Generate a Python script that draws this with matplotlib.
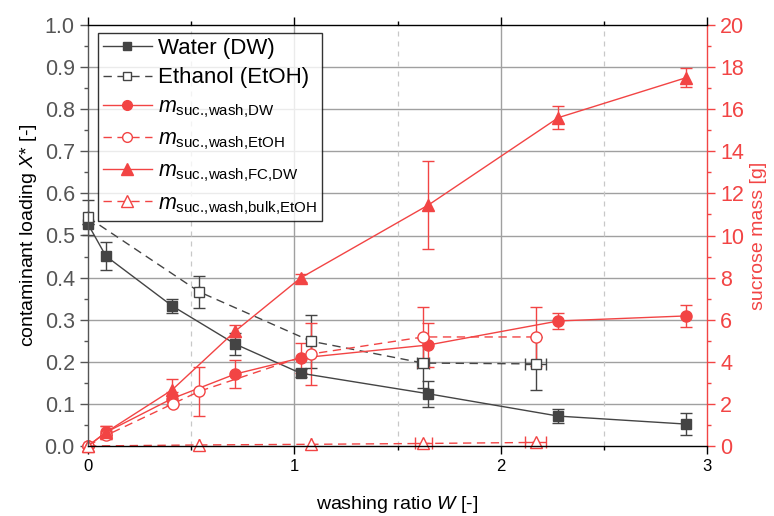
import matplotlib
matplotlib.use("Agg")
import matplotlib.pyplot as plt
from matplotlib.ticker import MultipleLocator
from matplotlib.lines import Line2D

plt.rcParams['font.family'] = ['Liberation Sans', 'DejaVu Sans']
plt.rcParams['mathtext.fontset'] = 'custom'
plt.rcParams['mathtext.rm'] = 'Liberation Sans'
plt.rcParams['mathtext.it'] = 'Liberation Sans:italic'

RED = '#f24444'
DARK = '#444444'

# contaminant loading X* (left axis)
w_dw = [0.0, 0.087, 0.407, 0.714, 1.03, 1.65, 2.28, 2.90]
x_dw = [0.527, 0.451, 0.333, 0.242, 0.173, 0.124, 0.071, 0.052]
x_dw_err = [0.0, 0.033, 0.017, 0.027, 0.01, 0.031, 0.017, 0.026]

w_et = [0.0, 0.54, 1.08, 1.625, 2.17]
w_et_xerr = [0.0, 0.0, 0.0, 0.03, 0.05]
x_et = [0.543, 0.366, 0.249, 0.197, 0.195]
x_et_err = [0.042, 0.038, 0.063, 0.06, 0.063]

# sucrose mass (right axis)
m_dw = [0.0, 0.65, 2.25, 3.42, 4.18, 4.80, 5.94, 6.18]
m_dw_err = [0.0, 0.3, 0.3, 0.67, 0.69, 1.04, 0.4, 0.52]

w_me = [0.0, 0.087, 0.41, 0.54, 1.08, 1.625, 2.17]
m_et = [0.0, 0.5, 2.0, 2.6, 4.37, 5.18, 5.18]
m_et_err = [0.0, 0.0, 0.0, 1.17, 1.48, 1.42, 1.4]

m_fc = [0.0, 0.65, 2.66, 5.46, 7.98, 11.45, 15.6, 17.5]
m_fc_err = [0.0, 0.3, 0.5, 0.3, 0.2, 2.1, 0.55, 0.45]

w_bulk = [0.0, 0.54, 1.08, 1.625, 2.17]
w_bulk_xerr = [0.0, 0.0, 0.0, 0.04, 0.05]
m_bulk = [0.0, 0.05, 0.08, 0.12, 0.17]

fig = plt.figure(figsize=(7.74, 5.16), dpi=100)
ax = fig.add_axes([88/774, 1-446/516, 619/774, 421/516])
ax2 = ax.twinx()
ax.set_zorder(ax2.get_zorder() + 1)
ax.patch.set_visible(False)

ax.set_xlim(0, 3)
ax.set_ylim(0, 1.0)
ax2.set_ylim(0, 20)

# grid
for yv in [i/10 for i in range(1, 10)]:
    ax2.axhline(yv*20, color='#a0a0a0', lw=1.0, zorder=0)
for xv in [1, 2]:
    ax2.axvline(xv, color='#a0a0a0', lw=1.0, zorder=0)
for xv in [0.5, 1.5, 2.5]:
    ax2.axvline(xv, color='#c8c8c8', lw=0.9, ls=(0, (4, 4)), zorder=0)

ekw = dict(capsize=4, elinewidth=1.0, capthick=1.0)
ax.errorbar(w_dw, x_dw, yerr=x_dw_err, color=DARK, marker='s', ms=7, lw=1.0,
            mfc=DARK, mec=DARK, ecolor=DARK, **ekw)
ax.errorbar(w_et, x_et, yerr=x_et_err, xerr=w_et_xerr, color=DARK, marker='s', ms=7,
            lw=1.0, ls=(0, (6, 4)), mfc='white', mec=DARK, ecolor=DARK, **ekw)
ax.errorbar(w_dw, [v/20 for v in m_dw], yerr=[e/20 for e in m_dw_err], color=RED,
            marker='o', ms=8, lw=1.0, mfc=RED, mec=RED, ecolor=RED, **ekw)
ax.errorbar(w_me, [v/20 for v in m_et], yerr=[e/20 for e in m_et_err], color=RED,
            marker='o', ms=8, lw=1.0, ls=(0, (6, 4)), mfc='white', mec=RED, ecolor=RED, **ekw)
ax.errorbar(w_dw, [v/20 for v in m_fc], yerr=[e/20 for e in m_fc_err], color=RED,
            marker='^', ms=9, lw=1.0, mfc=RED, mec=RED, ecolor=RED, **ekw)
ax.errorbar(w_bulk, [v/20 for v in m_bulk], xerr=w_bulk_xerr, color=RED,
            marker='^', ms=9, lw=1.0, ls=(0, (6, 4)), mfc='white', mec=RED, ecolor=RED,
            **ekw)
for l in ax.lines:
    l.set_clip_on(False)

# ticks
ax.yaxis.set_major_locator(MultipleLocator(0.1))
ax.yaxis.set_minor_locator(MultipleLocator(0.05))
ax.xaxis.set_major_locator(MultipleLocator(1))
ax.xaxis.set_minor_locator(MultipleLocator(0.5))
ax2.yaxis.set_major_locator(MultipleLocator(2))
ax2.yaxis.set_minor_locator(MultipleLocator(1))
ax.yaxis.set_major_formatter(matplotlib.ticker.FormatStrFormatter('%.1f'))

ax.tick_params(axis='y', which='major', direction='out', length=6, width=1,
               color='#555555', labelcolor='#555555', labelsize=15.5)
ax.tick_params(axis='y', which='minor', direction='out', length=3, width=1, color='#555555')
ax.tick_params(axis='x', which='major', direction='out', length=6, width=1,
               labelsize=12, top=True)
ax.tick_params(axis='x', which='minor', direction='out', length=3, width=1, top=True)
ax2.tick_params(axis='y', which='major', direction='out', length=6, width=1,
                color=RED, labelcolor=RED, labelsize=15.5)
ax2.tick_params(axis='y', which='minor', direction='out', length=3, width=1, color=RED)

ax.spines['left'].set_color('#555555')
ax.spines['right'].set_visible(False)
ax2.spines['right'].set_color(RED)
ax2.spines['left'].set_visible(False)
for sp in ['top', 'bottom']:
    ax2.spines[sp].set_visible(False)
    ax.spines[sp].set_color('black')
for sp in ax.spines.values():
    sp.set_linewidth(1.0)
ax2.spines['right'].set_linewidth(1.0)

ax.set_xlabel(r'washing ratio $W$ [-]', fontsize=14, labelpad=14)
ax.set_ylabel(r'contaminant loading $X$* [-]', fontsize=14, labelpad=4)
ax2.set_ylabel('sucrose mass [g]', fontsize=14, color=RED, labelpad=4)

handles = [
    Line2D([], [], color=DARK, marker='s', ms=6, mfc=DARK, mec=DARK, lw=1.0),
    Line2D([], [], color=DARK, marker='s', ms=6, mfc='white', mec=DARK, lw=1.0, ls=(0, (6, 4))),
    Line2D([], [], color=RED, marker='o', ms=7, mfc=RED, mec=RED, lw=1.0),
    Line2D([], [], color=RED, marker='o', ms=7, mfc='white', mec=RED, lw=1.0, ls=(0, (6, 4))),
    Line2D([], [], color=RED, marker='^', ms=8, mfc=RED, mec=RED, lw=1.0),
    Line2D([], [], color=RED, marker='^', ms=8, mfc='white', mec=RED, lw=1.0, ls=(0, (6, 4))),
]
labels = [
    'Water (DW)',
    'Ethanol (EtOH)',
    r'$m_{\mathregular{suc.\!{,}wash{,}DW}}$',
    r'$m_{\mathregular{suc.\!{,}wash{,}EtOH}}$',
    r'$m_{\mathregular{suc.\!{,}wash{,}FC{,}DW}}$',
    r'$m_{\mathregular{suc.\!{,}wash{,}bulk{,}EtOH}}$',
]
leg = ax.legend(handles, labels, loc='upper left', bbox_to_anchor=(10/619, 1-8/421),
                borderaxespad=0, fontsize=16, frameon=True, fancybox=False,
                edgecolor='black', handlelength=2.2, borderpad=0.22, labelspacing=0.38,
                handletextpad=0.3)
for i, t in enumerate(leg.get_texts()):
    t.set_fontsize(16 if i < 2 else 15.5)
leg.get_frame().set_linewidth(1.0)
leg.set_zorder(10)

fig.savefig('out.png', dpi=100)
